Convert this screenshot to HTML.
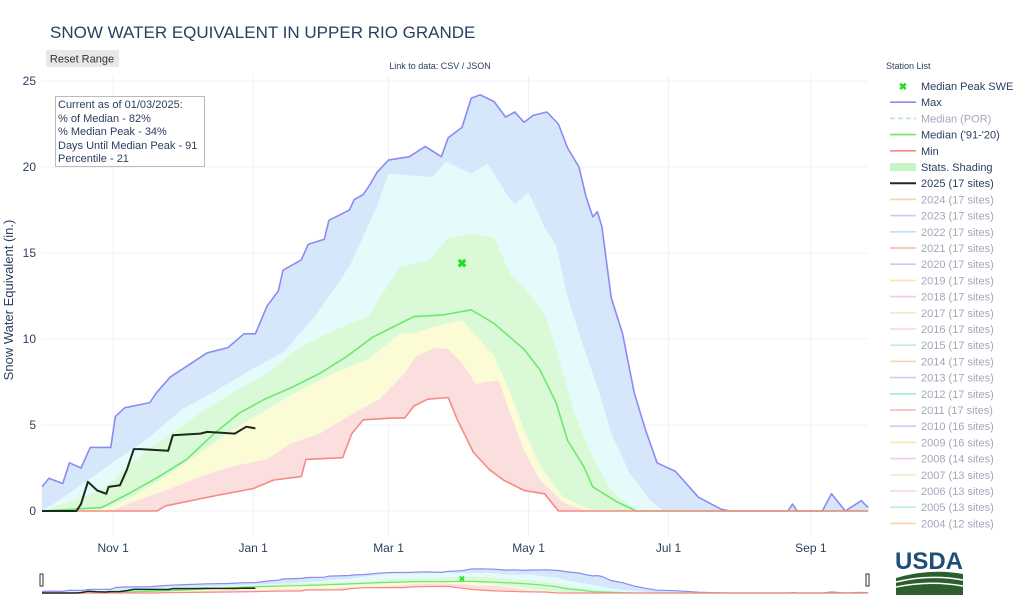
<!DOCTYPE html>
<html><head><meta charset="utf-8"><style>
body{margin:0;width:1023px;height:597px;overflow:hidden;background:#fff;font-family:"Liberation Sans",sans-serif;}
svg text{font-family:"Liberation Sans",sans-serif;}
</style></head><body>
<svg id="chart" width="1023" height="597" viewBox="0 0 1023 597" xmlns="http://www.w3.org/2000/svg">
<text x="50" y="38" font-size="17" fill="#2a3f5f">SNOW WATER EQUIVALENT IN UPPER RIO GRANDE</text>
<g><rect x="46" y="50" width="73" height="17" rx="2" fill="#e8e8e8"/><text x="82" y="62.5" font-size="11" fill="#333" text-anchor="middle">Reset Range</text></g>
<text x="440" y="69" font-size="9" fill="#2a3f5f" text-anchor="middle">Link to data: CSV / JSON</text>
<text x="886" y="69" font-size="9" fill="#2a3f5f">Station List</text>
<g id="grid"></g><g id="bands"></g><g id="lines"></g><g id="axes"></g>
<text transform="translate(13,300) rotate(-90)" font-size="13" fill="#2a3f5f" text-anchor="middle">Snow Water Equivalent (in.)</text>
<g><rect x="55.5" y="96.5" width="149" height="70" fill="#fff" stroke="#bbb"/>
<text font-size="11" fill="#2a3f5f"><tspan x="58" y="108">Current as of 01/03/2025:</tspan><tspan x="58" y="122">% of Median - 82%</tspan><tspan x="58" y="135">% Median Peak - 34%</tspan><tspan x="58" y="149">Days Until Median Peak - 91</tspan><tspan x="58" y="162">Percentile - 21</tspan></text></g>
<g id="legend"></g>
<g id="slider"></g>
<g><text x="929" y="569" font-size="24" font-weight="bold" fill="#1f4e79" text-anchor="middle" font-family="Liberation Serif, serif">USDA</text>
<path d="M896 578 Q930 568 963 574 L963 595 L896 595 Z" fill="#2c5e2e"/><path d="M896 582 Q930 574 963 580" stroke="#fff" stroke-width="1.5" fill="none"/><path d="M896 587 Q930 580 963 586" stroke="#fff" stroke-width="1.5" fill="none"/></g>
</svg>
<script>
const tickDays=[31,92,151,212,273,335];
const tickLabels=["Nov 1","Jan 1","Mar 1","May 1","Jul 1","Sep 1"];
const yTicks=[0,5,10,15,20,25];
const maxDays=[0,3,9,12,17,21,30,32,36,47,50,56,64,72,81,88,93,98,103,105,113,116,123,125,134,136,140,143,146,151,160,167,174,177,183,187,191,197,202,206,210,214,220,225,229,234,237,240,242,244,248,253,258,263,268,276,286,296,300,325,327,329,340,344,350,357,360];
const maxVals=[1.4,1.9,1.6,2.8,2.5,3.7,3.7,5.5,6.0,6.3,6.9,7.8,8.5,9.2,9.5,10.3,10.3,11.9,12.8,14.0,14.6,15.5,15.8,16.9,17.5,18.1,18.4,19.0,19.7,20.4,20.6,21.2,20.6,21.7,22.3,24.0,24.2,23.8,22.9,23.2,22.6,23.0,23.2,22.5,21.1,20.0,18.3,17.1,17.4,16.5,12.4,10.3,6.9,4.7,2.8,2.3,0.8,0.1,0,0,0.4,0,0,1.0,0,0.6,0.2];
const p90Days=[0,5,18,33,47,61,76,91,105,119,134,146,151,161,170,176,187,194,202,206,212,219,224,229,236,242,248,256,265,271,360];
const p90Vals=[0,0.4,1.6,3.0,4.3,5.9,7.0,8.2,9.2,11.3,14.2,17.7,19.6,19.5,19.4,20.3,19.6,20.2,18.5,17.8,18.5,16.5,15.4,12.4,9.5,7.2,4.5,2.2,0.6,0,0];
const p70Days=[0,26,39,54,69,83,98,112,127,142,156,169,177,187,197,204,210,219,225,232,240,248,259,360];
const p70Vals=[0,1.2,2.8,4.3,5.7,6.9,8.0,9.5,10.5,11.3,14.2,14.6,15.9,16.1,15.9,13.8,13.0,11.5,9.0,5.7,3.1,1.2,0,0];
const medDays=[0,26,39,51,63,75,86,97,109,121,133,144,150,156,162,175,187,197,204,210,217,224,229,236,240,251,259,360];
const medVals=[0,0.2,1.1,2.0,3.0,4.5,5.7,6.5,7.2,8.0,9.0,10.1,10.5,10.9,11.3,11.4,11.7,10.9,10.1,9.4,8.2,6.3,4.1,2.6,1.4,0.5,0,0];
const p30Days=[0,26,39,54,69,83,98,112,127,142,156,162,170,183,191,197,204,210,217,227,240,360];
const p30Vals=[0,0.1,0.8,2.0,3.4,4.7,5.9,7.0,8.0,8.8,10.3,10.3,10.7,11.1,9.9,9.0,6.9,4.7,2.6,0.8,0,0];
const p10Days=[0,30,39,54,69,83,98,108,121,136,147,158,163,171,177,183,189,199,204,210,217,227,237,360];
const p10Vals=[0,0,0.5,1.2,2.0,2.6,3.0,3.9,4.5,5.7,6.5,8.0,9.0,9.5,9.4,8.6,7.4,7.6,5.7,3.5,1.8,0.5,0,0];
const minDays=[0,50,54,76,92,101,113,115,131,135,140,152,158,162,168,177,181,188,195,201,210,219,225,360];
const minVals=[0,0,0.3,0.9,1.3,1.8,2.0,3.0,3.1,4.5,5.3,5.4,5.4,6.1,6.5,6.6,5.3,3.4,2.4,1.8,1.2,1.0,0,0];
const curDays=[0,15,17,20,24,28,29,34,37,40,43,55,57,69,72,84,89,93];
const curVals=[0,0,0.4,1.7,1.2,1.0,1.4,1.5,2.4,3.6,3.6,3.5,4.4,4.5,4.6,4.5,4.9,4.8];
const peakDay=[183];
const peakVal=[14.4];

const NS="http://www.w3.org/2000/svg";
const X=d=>42+d*2.295, Y=v=>511-v*17.2;
const SX=d=>42+d*2.295, SY=v=>593-v*1.0;
function mk(tag,attrs,parent){const e=document.createElementNS(NS,tag);for(const k in attrs)e.setAttribute(k,attrs[k]);parent.appendChild(e);return e;}
function pts(ds,vs,fx,fy){return ds.map((d,i)=>fx(d).toFixed(1)+","+fy(vs[i]).toFixed(1));}
const grid=document.getElementById('grid'),axes=document.getElementById('axes');
yTicks.forEach(t=>{const l=mk('line',{x1:42,x2:868,y1:Y(t),y2:Y(t),stroke:'#eef1f8'},grid);


const tx=mk('text',{x:36,y:Y(t)+4,'font-size':12,fill:'#2a3f5f','text-anchor':'end'},axes);tx.textContent=t;

});
tickDays.forEach((d,i)=>{const l=mk('line',{x1:X(d),x2:X(d),y1:75,y2:537,stroke:'#eef1f8'},grid);


const tx=mk('text',{x:X(d),y:552,'font-size':12,fill:'#2a3f5f','text-anchor':'middle'},axes);tx.textContent=tickLabels[i];

});
const bands=document.getElementById('bands');
function band(uD,uV,lD,lV,fill,name,fx,fy,par){const p=pts(uD,uV,fx,fy).concat(pts(lD,lV,fx,fy).reverse());
const e=mk('polygon',{points:p.join(' '),fill:fill},par);

}
band(maxDays,maxVals,p90Days,p90Vals,'#d7e7fb','band-max-p90',X,Y,bands);
band(p90Days,p90Vals,p70Days,p70Vals,'#e5fbfb','band-p90-p70',X,Y,bands);
band(p70Days,p70Vals,p30Days,p30Vals,'#d9f9d7','band-p70-p30',X,Y,bands);
band(p30Days,p30Vals,p10Days,p10Vals,'#fbfbd6','band-p30-p10',X,Y,bands);
band(p10Days,p10Vals,minDays,minVals,'#fbdede','band-p10-min',X,Y,bands);
const lines=document.getElementById('lines');
function line(ds,vs,col,w,name,fx,fy,par){const e=mk('polyline',{points:pts(ds,vs,fx,fy).join(' '),fill:'none',stroke:col,'stroke-width':w,'stroke-linejoin':'round'},par);

}
line(maxDays,maxVals,'#8b8bf0',1.6,'max-line',X,Y,lines);
line(medDays,medVals,'#6fe86f',1.6,'median-line',X,Y,lines);
line(minDays,minVals,'#f58a84',1.6,'min-line',X,Y,lines);
line(curDays,curVals,'#1b2a1b',2,'current-2025-line',X,Y,lines);
const pk=mk('text',{x:X(peakDay[0]),y:Y(peakVal[0])+4,'font-size':12,'font-weight':'bold',fill:'#22dd22','text-anchor':'middle'},lines);pk.textContent='✖';


// slider
const sl=document.getElementById('slider');
band(maxDays,maxVals,p90Days,p90Vals,'#d7e7fb','slider-band-max',SX,SY,sl);
band(p90Days,p90Vals,p70Days,p70Vals,'#e5fbfb','slider-band-p90',SX,SY,sl);
band(p70Days,p70Vals,p30Days,p30Vals,'#d9f9d7','slider-band-p70',SX,SY,sl);
band(p30Days,p30Vals,p10Days,p10Vals,'#fbfbd6','slider-band-p30',SX,SY,sl);
band(p10Days,p10Vals,minDays,minVals,'#fbdede','slider-band-p10',SX,SY,sl);
line(maxDays,maxVals,'#8b8bf0',1.2,'slider-max-line',SX,SY,sl);
line(medDays,medVals,'#6fe86f',1.2,'slider-median-line',SX,SY,sl);
line(minDays,minVals,'#f58a84',1.2,'slider-min-line',SX,SY,sl);
line(curDays,curVals,'#1b2a1b',1.5,'slider-current-line',SX,SY,sl);
const pk2=mk('text',{x:SX(peakDay[0]),y:SY(peakVal[0])+3,'font-size':8,fill:'#22dd22','text-anchor':'middle'},sl);pk2.textContent='✖';


[40,866].forEach(x=>{const h=mk('rect',{x:x,y:574,width:3,height:12,fill:'#fff',stroke:'#333','stroke-width':1},sl);

});
// legend
const lg=document.getElementById('legend');
const legNames=["Median Peak SWE","Max","Median (POR)","Median ('91-'20)","Min","Stats. Shading","2025 (17 sites)","2024 (17 sites)","2023 (17 sites)","2022 (17 sites)","2021 (17 sites)","2020 (17 sites)","2019 (17 sites)","2018 (17 sites)","2017 (17 sites)","2016 (17 sites)","2015 (17 sites)","2014 (17 sites)","2013 (17 sites)","2012 (17 sites)","2011 (17 sites)","2010 (16 sites)","2009 (16 sites)","2008 (14 sites)","2007 (13 sites)","2006 (13 sites)","2005 (13 sites)","2004 (12 sites)"];
const legCols=["#22dd22","#8b8bf0","#b8e8b8","#6fe86f","#f58a84","#c8f5c8","#1b2a1b","#fcd3a8","#d9c4f5","#bfe0f5","#f7b5ad","#c9caf5","#fde5b0","#f7c9ef","#e4f2c9","#f9d3e2","#b9eeee","#fcd3a8","#d9c4f5","#a6e9d5","#f7b5ad","#c9caf5","#fde5b0","#f7c9ef","#e4f2c9","#f9d3e2","#b9eeee","#fcd3a8"];
legNames.forEach((n,i)=>{const y=86+i*16.2;const g=mk('g',{},lg);


if(i===0){const t=mk('text',{x:903,y:y+4,'font-size':10,'font-weight':'bold',fill:legCols[i],'text-anchor':'middle'},g);t.textContent='✖';}
else if(i===5){mk('rect',{x:890,y:y-4,width:26,height:8,fill:legCols[i]},g);}
else{mk('line',{x1:890,x2:916,y1:y,y2:y,stroke:legCols[i],'stroke-width':i===6?2:1.6,'stroke-dasharray':i===2?'5,3':'none'},g);}
const faded=(i===2||i>=7);
const t=mk('text',{x:921,y:y+4,'font-size':11,fill:faded?'#a0a8b8':'#2a3f5f'},g);t.textContent=n;});
</script>
</body></html>
